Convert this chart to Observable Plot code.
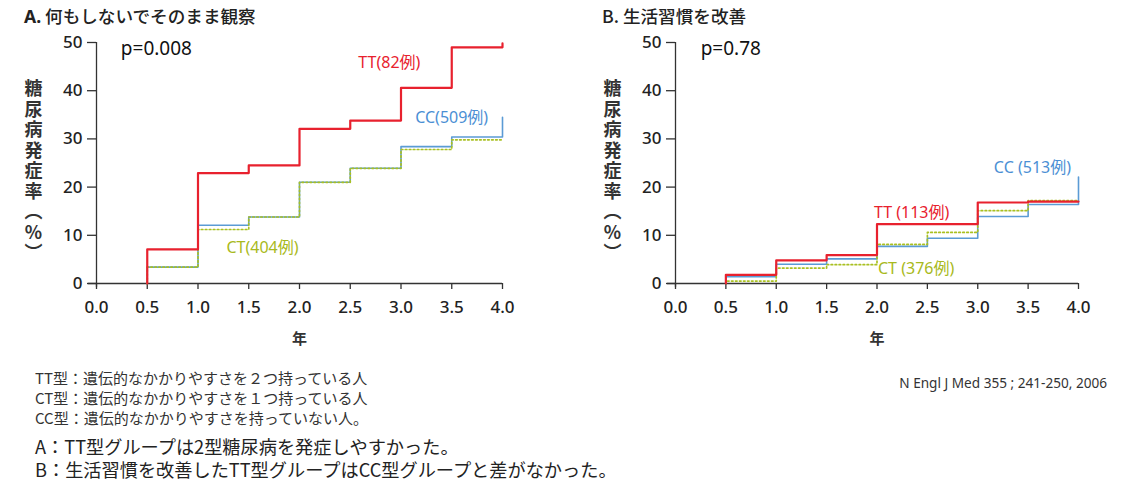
<!DOCTYPE html>
<html>
<head>
<meta charset="utf-8">
<script src="https://cdn.jsdelivr.net/npm/d3@7"></script>
<script src="https://cdn.jsdelivr.net/npm/@observablehq/plot@0.6"></script>
<style>
  html, body { margin: 0; padding: 0; background: #fff; }
  #root { position: relative; width: 1129px; height: 487px; overflow: hidden;
          font-family: "Noto Sans", "Noto Sans CJK JP", sans-serif; color: #222; }
  .abs { position: absolute; white-space: nowrap; }
  .title { font-family: "Noto Sans CJK JP", "Noto Sans", sans-serif; font-size: 17.6px; line-height: 24px; font-weight: 500; color: #222; }
  .title b { font-family: "Noto Sans", sans-serif; font-weight: 700; }
  .notes { font-family: "Noto Sans CJK JP", sans-serif; font-size: 15px; line-height: 20px; color: #333; }
  .concl { font-family: "Noto Sans CJK JP", sans-serif; font-size: 18.2px; line-height: 23px; color: #222; }
  .cite { font-family: "Noto Sans", sans-serif; font-size: 13.6px; line-height: 18px; color: #333; text-align: right; }
</style>
</head>
<body>
<div id="root"></div>
<script>
// ---- data ----
const times = [0.5, 1.0, 1.5, 2.0, 2.5, 3.0, 3.5, 4.0];
const xTicks = [0, 0.5, 1.0, 1.5, 2.0, 2.5, 3.0, 3.5, 4.0];
const yTicks = [0, 10, 20, 30, 40, 50];

// Panel A: observation only
const aTT = [7.1, 22.9, 24.5, 32.1, 33.8, 40.6, 49.0, 49.8];
const aCC = [3.4, 12.1, 13.8, 21.0, 23.9, 28.4, 30.4, 34.5];
const aCT = [3.4, 11.2, 13.8, 21.0, 23.9, 27.8, 29.8, 29.8];

// Panel B: lifestyle improvement
const bTT = [1.8, 4.8, 5.9, 12.3, 12.3, 16.8, 17.0, 17.0];
const bCC = [1.4, 4.0, 5.1, 7.7, 9.4, 13.9, 16.4, 22.1];
const bCT = [0.5, 3.2, 3.9, 8.1, 10.6, 15.1, 17.2, 17.2];

const titleA = "何もしないでそのまま観察";
const titleB = "生活習慣を改善";
const yTitle = "糖\n尿\n病\n発\n症\n率\n︵\n%\n︶";
const xTitle = "年";

const labelsA = [
  {x: 0.24, y: 48.7, text: "p=0.008", color: "#111", size: 19},
  {x: 2.58, y: 45.7, text: "TT(82例)", color: "#e8212e", size: 16},
  {x: 3.14, y: 34.4, text: "CC(509例)", color: "#4b8fd4", size: 16},
  {x: 1.28, y: 7.3, text: "CT(404例)", color: "#a8b920", size: 16}
];
const labelsB = [
  {x: 0.25, y: 48.7, text: "p=0.78", color: "#111", size: 19},
  {x: 3.16, y: 24.0, text: "CC (513例)", color: "#4b8fd4", size: 16},
  {x: 1.97, y: 14.7, text: "TT (113例)", color: "#e8212e", size: 16},
  {x: 2.01, y: 3.1, text: "CT (376例)", color: "#a8b920", size: 16}
];

const colTT = "#e8212e", colCC = "#5b9bd5", colCT = "#a9c022";

function steps(vals) {
  return [{t: times[0], v: 0}].concat(times.map((t, i) => ({t, v: vals[i]})));
}

function panel(tt, cc, ct, labels, ml, mr) {
  return Plot.plot({
    width: 560, height: 360,
    marginLeft: ml, marginRight: mr, marginTop: 42, marginBottom: 77,
    x: {domain: [0, 4]},
    y: {domain: [0, 50]},
    style: {fontFamily: '"Noto Sans", "Noto Sans CJK JP", sans-serif', fontSize: "17px", color: "#222", background: "transparent", overflow: "visible"},
    marks: [
      Plot.axisY({ticks: yTicks, tickSize: 9, tickPadding: 5, label: null, tickFormat: d => String(d), fontSize: 17, fontWeight: 500, stroke: "#333", strokeWidth: 1.3}),
      Plot.axisX({ticks: xTicks, tickSize: 6, tickPadding: 11, label: null, tickFormat: d => d.toFixed(1), fontSize: 17, fontWeight: 500, stroke: "#333", strokeWidth: 1.3}),
      Plot.ruleX([0], {y1: -0.8, y2: 50, stroke: "#333", strokeWidth: 1.3}),
      Plot.ruleY([0], {x1: -0.08, x2: 4, stroke: "#333", strokeWidth: 1.3}),
      Plot.line(steps(cc), {x: "t", y: "v", curve: "step-after", stroke: colCC, strokeWidth: 1.6}),
      Plot.line(steps(ct), {x: "t", y: "v", curve: "step-after", stroke: colCT, strokeWidth: 1.7, strokeDasharray: "1.6,2.4"}),
      Plot.line(steps(tt), {x: "t", y: "v", curve: "step-after", stroke: colTT, strokeWidth: 2.2}),
      ...labels.map(l => Plot.text([l], {x: "x", y: "y", text: "text", fill: l.color, fontSize: l.size, textAnchor: "start"})),
      Plot.text([yTitle], {frameAnchor: "left", textAnchor: "middle", dx: -63, dy: 7.5, text: d => d, fontSize: 18, fontWeight: 700, lineHeight: 1.14, fill: "#333", fontFamily: '"Noto Sans CJK JP", sans-serif'}),
      Plot.text([{x: 2}], {x: "x", frameAnchor: "bottom", dy: 60, text: () => xTitle, fontSize: 15, fontWeight: 700, fill: "#333", fontFamily: '"Noto Sans CJK JP", sans-serif'})
    ]
  });
}

const root = document.getElementById("root");
function place(el, left, top) {
  el.style.position = "absolute"; el.style.left = left + "px"; el.style.top = top + "px";
  root.appendChild(el);
}
place(panel(aTT, aCC, aCT, labelsA, 96, 58), 0, 0);
place(panel(bTT, bCC, bCT, labelsB, 115, 42), 560, 0);

function div(cls, html, left, top) {
  const d = document.createElement("div");
  d.className = "abs " + cls;
  d.innerHTML = html;
  d.style.left = left + "px"; d.style.top = top + "px";
  root.appendChild(d);
  return d;
}
div("title", "<b>A.</b> " + titleA, 24, 4);
div("title", "B. " + titleB, 602, 4);

const noteLines = [
  "TT型：遺伝的なかかりやすさを２つ持っている人",
  "CT型：遺伝的なかかりやすさを１つ持っている人",
  "CC型：遺伝的なかかりやすさを持っていない人。"
];
const conclLines = [
  "A：TT型グループは2型糖尿病を発症しやすかった。",
  "B：生活習慣を改善したTT型グループはCC型グループと差がなかった。"
];
const citation = "N Engl J Med 355 ; 241-250, 2006";
div("notes", noteLines.join("<br>"), 35, 368);
div("concl", conclLines.join("<br>"), 35, 435);
const c = div("cite", citation, 0, 374);
c.style.left = "auto"; c.style.right = "22px";
</script>
</body>
</html>
